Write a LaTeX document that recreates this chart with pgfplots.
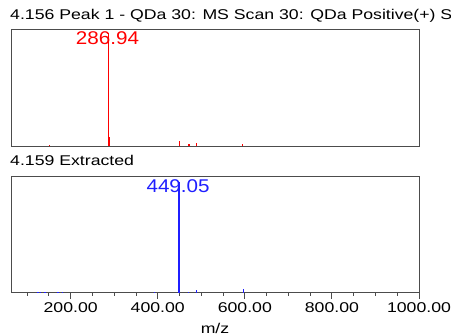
\documentclass[border=0pt]{standalone}
\usepackage{fontspec}
\setmainfont{Liberation Sans}[FakeStretch=1.25]
\newfontfamily\peakfont{Liberation Sans}[FakeStretch=1.12]
\usepackage{pgfplots}
\pgfplotsset{compat=1.18}

\definecolor{specred}{rgb}{1,0,0}
\definecolor{specblue}{rgb}{0.12,0.12,1}

\pgfplotsset{
  spec/.style={
    scale only axis, width=408bp, height=116.7bp,
    xmin=63, xmax=1000, ymin=0, ymax=100,
    axis line style={black!70, line width=0.9bp},
    ytick=\empty,
    title style={at={(0,1)}, anchor=base west, inner sep=0pt,
      font=\fontsize{14.2}{16}\selectfont},
    clip=false,
  },
}

\begin{document}
\begin{tikzpicture}
\clip (-11bp,-43.3bp) rectangle (440bp,292.7bp);
\useasboundingbox (-11bp,-43.3bp) rectangle (440bp,292.7bp);

% Peak 1 spectrum
\begin{axis}[spec,
  at={(0,146.7bp)}, anchor=south west,
  xtick=\empty,
  title={4.156 Peak 1 - QDa 30: MS Scan 30: QDa Positive(+) Scan},
  title style={xshift=-1bp, yshift=3.6bp},
]
\addplot[ycomb, specred, line width=1.2bp, mark=none] coordinates {
  (151,0.8) (286.94,97) (288,7.4) (450,4) (472,1.7) (489.6,2.3) (595,1.3)
};
\node[anchor=base, inner sep=0pt, text=specred,
  font=\peakfont\fontsize{18.5}{20}\selectfont]
  at (axis cs:286.94,97) [yshift=-12.2bp, xshift=-1bp] {286.94};
\end{axis}

% Extracted spectrum
\begin{axis}[spec,
  at={(0,0)}, anchor=south west,
  title={4.159 Extracted},
  title style={xshift=-1bp, yshift=4.3bp},
  xtick={200,400,600,800,1000},
  minor xtick={100,150,250,300,350,450,500,550,650,700,750,850,900,950},
  xtick pos=bottom, tick align=outside,
  major tick length=6bp, minor tick length=3bp,
  tick style={black!70, line width=0.9bp},
  x tick label style={anchor=base, inner sep=0pt, yshift=-14bp,
    font=\fontsize{14.2}{16}\selectfont,
    /pgf/number format/.cd, fixed, fixed zerofill, precision=2,
    1000 sep={}, assume math mode=true},
  xlabel={m/z},
  xlabel style={at={(axis description cs:0.5,0)}, anchor=base,
    inner sep=0pt, yshift=-40.6bp, font=\fontsize{14.2}{16}\selectfont},
]
\addplot[ycomb, specblue, line width=1.2bp, mark=none] coordinates {
  (125,0.8) (130,0.8) (141,0.6) (171,0.6) (182,0.6) (392,0.8)
  (449.05,95) (450.5,14) (471,1) (489.6,2.3) (597,3)
};
\node[anchor=base, inner sep=0pt, text=specblue,
  font=\peakfont\fontsize{18.5}{20}\selectfont]
  at (axis cs:449.05,95) [yshift=-10.9bp, xshift=-1bp] {449.05};
\end{axis}
\end{tikzpicture}
\end{document}
